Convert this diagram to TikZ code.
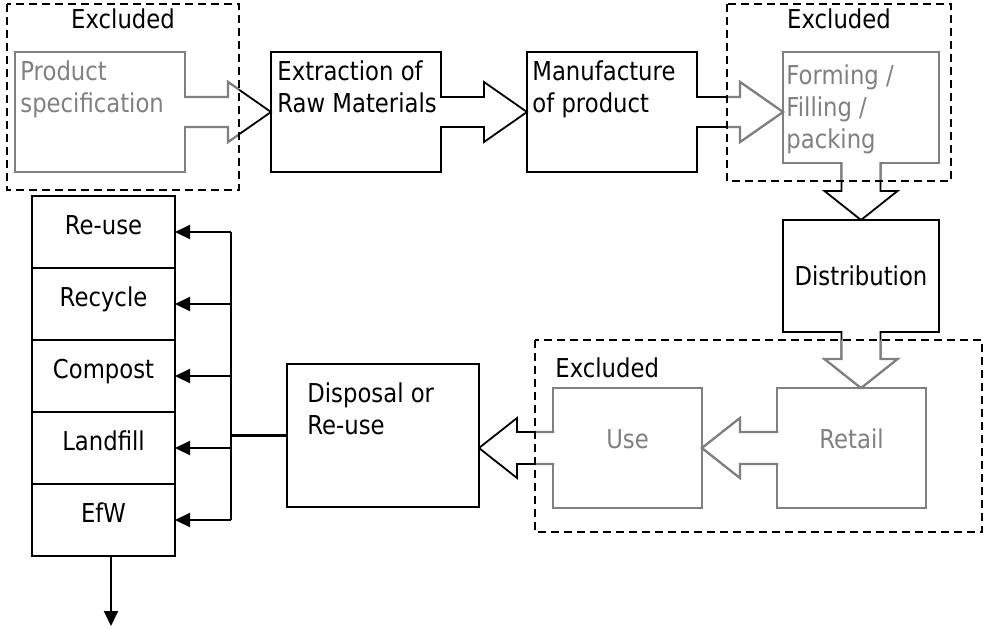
\documentclass[tikz,border=0pt]{standalone}
\usepackage{fontspec}
\setmainfont{DejaVu Sans}[FakeStretch=0.875]
\usetikzlibrary{positioning, arrows.meta}

\tikzset{
  stage/.style={draw, line width=0.9pt, outer sep=0pt, inner sep=0pt, anchor=north west},
  ghost/.style={stage, draw=gray, text=gray},
  note/.style={align=left, anchor=north west, inner sep=0pt},
  bin/.style={draw, line width=0.9pt, outer sep=0pt, inner sep=0pt, minimum width=71.5pt, minimum height=36pt, text height=9.5pt, text depth=7.5pt},
  flow/.style={fill=white, line width=0.9pt, line join=miter},
  tap/.style={line width=1pt, -{Triangle[length=7.5pt, width=7pt]}},
  fence/.style={inner sep=0pt, outer sep=0pt, anchor=north west},
  fenceline/.style={line width=0.75pt, dash pattern=on 4pt off 2.5pt},
}

% block arrows from stage to stage (open at the back, so they merge into the box)
\newcommand{\stagearrows}{%
  \foreach \src/\dst in {spec/extract, extract/make, make/form}
    \draw[flow] ([xshift=-0.5pt, yshift=7.5pt]\src.east) -| ([xshift=-21.5pt, yshift=15pt]\src.east -| \dst.west)
      -- (\src.east -| \dst.west) -- ([xshift=-21.5pt, yshift=-15pt]\src.east -| \dst.west) |- ([xshift=-0.5pt, yshift=-7.5pt]\src.east);
  \foreach \src/\dst in {form/distrib, distrib/retail}
    \draw[flow] ([xshift=-9.75pt, yshift=0.5pt]\src.south) |- ([xshift=-18.25pt, yshift=14.5pt]\src.south |- \dst.north)
      -- (\src.south |- \dst.north) -- ([xshift=18.25pt, yshift=14.5pt]\src.south |- \dst.north) -| ([xshift=9.75pt, yshift=0.5pt]\src.south);
  \foreach \src/\dst in {retail/use, use/dispose}
    \draw[flow] ([xshift=0.5pt, yshift=8pt]\src.west) -| ([xshift=19pt, yshift=15pt]\src.west -| \dst.east)
      -- (\src.west -| \dst.east) -- ([xshift=19pt, yshift=-15pt]\src.west -| \dst.east) |- ([xshift=0.5pt, yshift=-8pt]\src.west);
}

\begin{document}
\begin{tikzpicture}[x=0.5pt, y=-0.5pt, font=\fontsize{13pt}{16pt}\selectfont]
  \useasboundingbox (0,0) rectangle (984,627);

  % excluded zones
  \node[fence, minimum width=116pt, minimum height=93pt] (exA) at (7,4) {};
  \node[fence, minimum width=112pt, minimum height=88.5pt] (exB) at (727,4) {};
  \node[fence, minimum width=223.5pt, minimum height=96pt] (exC) at (535,340) {};

  % life cycle stages
  \node[ghost, minimum width=85pt, minimum height=60pt] (spec) at (15,52) {};
  \node[stage, minimum width=85pt, minimum height=60pt] (extract) at (271,52) {};
  \node[stage, minimum width=85pt, minimum height=60pt] (make) at (527,52) {};
  \node[ghost, minimum width=78pt, minimum height=55.5pt] (form) at (783,52) {};
  \node[stage, minimum width=78pt, minimum height=56pt] (distrib) at (783,220) {Distribution};
  \node[ghost, minimum width=74.5pt, minimum height=60pt, text height=9.5pt, text depth=9.5pt] (retail) at (777,388) {Retail};
  \node[ghost, minimum width=74.5pt, minimum height=60pt, text height=9.5pt, text depth=9.5pt] (use) at (553,388) {Use};
  \node[stage, minimum width=96pt, minimum height=71.5pt] (dispose) at (287,364) {};

  \node[note, text=gray] (spec-t) at ([shift={(2.5pt,-4pt)}]spec.north west) {Product\\specification};
  \node[note] (extract-t) at ([shift={(3pt,-4pt)}]extract.north west) {Extraction of\\Raw Materials};
  \node[note] (make-t) at ([shift={(2.5pt,-4pt)}]make.north west) {Manufacture\\of product};
  \node[note, text=gray] (form-t) at ([shift={(1.5pt,-6pt)}]form.north west) {Forming /\\Filling /\\packing};
  \node[note] (dispose-t) at ([shift={(10pt,-9pt)}]dispose.north west) {Disposal or\\Re-use};

  \stagearrows
  % grey inside the excluded zones
  \foreach \zone in {exA, exB, exC} {
    \begin{scope}[flow/.append style={draw=gray, line width=1.1pt}]
      \clip (\zone.north west) rectangle (\zone.south east);
      \stagearrows
    \end{scope}
  }

  \foreach \zone in {exA, exB, exC}
    \draw[fenceline] (\zone.north west) rectangle (\zone.south east);
  \node[anchor=north, inner sep=0pt] (exA-t) at ([yshift=-2pt]exA.north) {Excluded};
  \node[anchor=north, inner sep=0pt] (exB-t) at ([yshift=-2pt]exB.north) {Excluded};
  \node[anchor=north west, inner sep=0pt] (exC-t) at ([shift={(10pt,-8.5pt)}]exC.north west) {Excluded};

  % end of life routes
  \node[bin, anchor=north west] (reuse) at (32,196) {Re-use};
  \node[bin, below=0pt of reuse] (recycle) {Recycle};
  \node[bin, below=0pt of recycle] (compost) {Compost};
  \node[bin, below=0pt of compost] (landfill) {Landfill};
  \node[bin, below=0pt of landfill] (efw) {EfW};

  \coordinate (bus) at (231,0);
  \coordinate (out) at (111,626);
  \draw[line width=1.1pt] (bus |- reuse.east) -- (bus |- efw.east);
  \draw[line width=1.1pt] (dispose.west) -- (bus |- dispose.west);
  \foreach \n in {reuse, recycle, compost, landfill, efw}
    \draw[tap] (bus |- \n.east) -- (\n.east);
  \draw[tap] (out |- efw.south) -- (out);
\end{tikzpicture}
\end{document}
